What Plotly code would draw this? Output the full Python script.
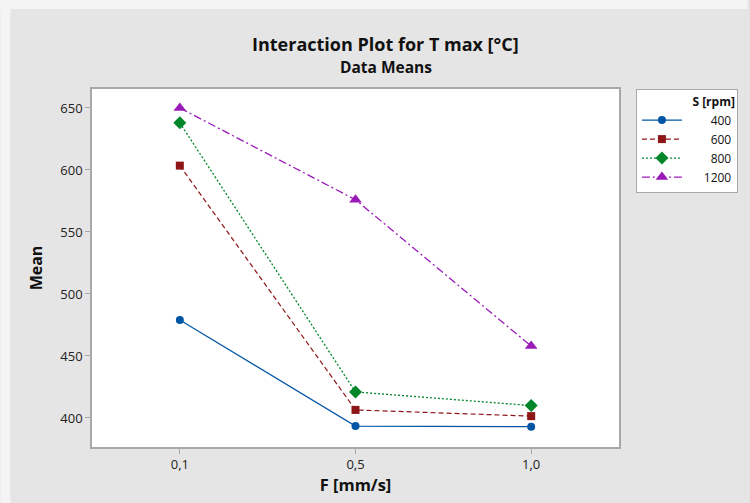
import plotly.graph_objects as go

categories = ["0,1", "0,5", "1,0"]
series_names = ["400", "600", "800", "1200"]
s400 = [479.0, 393.5, 393.0]
s600 = [603.5, 406.5, 401.5]
s800 = [638.0, 421.0, 410.0]
s1200 = [650.0, 576.0, 458.0]
y_ticks = [400, 450, 500, 550, 600, 650]

values = [s400, s600, s800, s1200]
colors = ["#0055a5", "#8f1616", "#00872a", "#9a1ab8"]
dashes = ["solid", "5px,3px", "2px,2px", "8px,3px,2px,3px"]
widths = [1.2, 1.2, 1.3, 1.3]
symbols = ["circle", "square", "diamond", "triangle-up"]
sizes = [8, 8, 10, 11]

W, H = 750, 503
L, R, T, B = 92, 129, 89, 56
pw = W - L - R
ph = H - T - B

FS = "\u2007"
max_len = max(len(n) for n in series_names)

fig = go.Figure()
for name, vals, c, d, w, s, sz in zip(series_names, values, colors, dashes, widths, symbols, sizes):
    label = FS * (2 + max_len - len(name)) + " " + name
    fig.add_trace(go.Scatter(
        x=categories, y=vals, name=label, mode="lines+markers",
        line=dict(color=c, width=w, dash=d),
        marker=dict(color=c, symbol=s, size=sz),
    ))

font = "Open Sans, Noto Sans, sans-serif"

def px_x(x):
    return (x - L) / pw

def px_y(y):
    return (H - B - y) / ph

fig.update_layout(
    width=W, height=H,
    margin=dict(l=L, r=R, t=T, b=B),
    paper_bgcolor="#e5e5e5",
    plot_bgcolor="white",
    font=dict(family=font, size=13, color="#222222"),
    showlegend=True,
    legend=dict(
        x=px_x(638), y=1.0, xanchor="left", yanchor="top",
        bgcolor="white", bordercolor="#a8a8a8", borderwidth=1,
        font=dict(family=font, size=12, color="#111111"),
        title=dict(text="<b>S [rpm]</b>", side="top right", font=dict(size=12)),
        itemwidth=40, tracegroupgap=0,
    ),
    annotations=[
        dict(text="<b>Interaction Plot for T max [°C]</b>", x=px_x(387), y=px_y(44),
             xref="paper", yref="paper", showarrow=False, xanchor="center", yanchor="middle",
             font=dict(size=18, color="#111111", family=font)),
        dict(text="<b>Data Means</b>", x=px_x(387), y=px_y(67),
             xref="paper", yref="paper", showarrow=False, xanchor="center", yanchor="middle",
             font=dict(size=15.5, color="#111111", family=font)),
    ],
    shapes=[
        dict(type="rect", xref="paper", yref="paper", x0=px_x(0), x1=px_x(10), y0=px_y(H), y1=px_y(0),
             fillcolor="#f4f4f4", line=dict(width=0), layer="below"),
        dict(type="rect", xref="paper", yref="paper", x0=px_x(0), x1=px_x(W), y0=px_y(9), y1=px_y(0),
             fillcolor="#f4f4f4", line=dict(width=0), layer="below"),
    ],
)

fig.update_xaxes(
    type="category", range=[-0.5, 2.5],
    showline=True, linecolor="#a8a8a8", linewidth=1.5, mirror=True,
    ticks="outside", ticklen=5, tickcolor="#a8a8a8",
    showgrid=False, zeroline=False,
    title=dict(text="<b>F [mm/s]</b>", font=dict(size=16.5, color="#111111"), standoff=7),
)
fig.update_yaxes(
    range=[376.6, 665.3], tickvals=y_ticks,
    showline=True, linecolor="#a8a8a8", linewidth=1.5, mirror=True,
    ticks="outside", ticklen=5, tickcolor="#a8a8a8",
    showgrid=False, zeroline=False,
    title=dict(text="<b>Mean</b>", font=dict(size=16, color="#111111"), standoff=14),
)

fig.write_html("out.html")
